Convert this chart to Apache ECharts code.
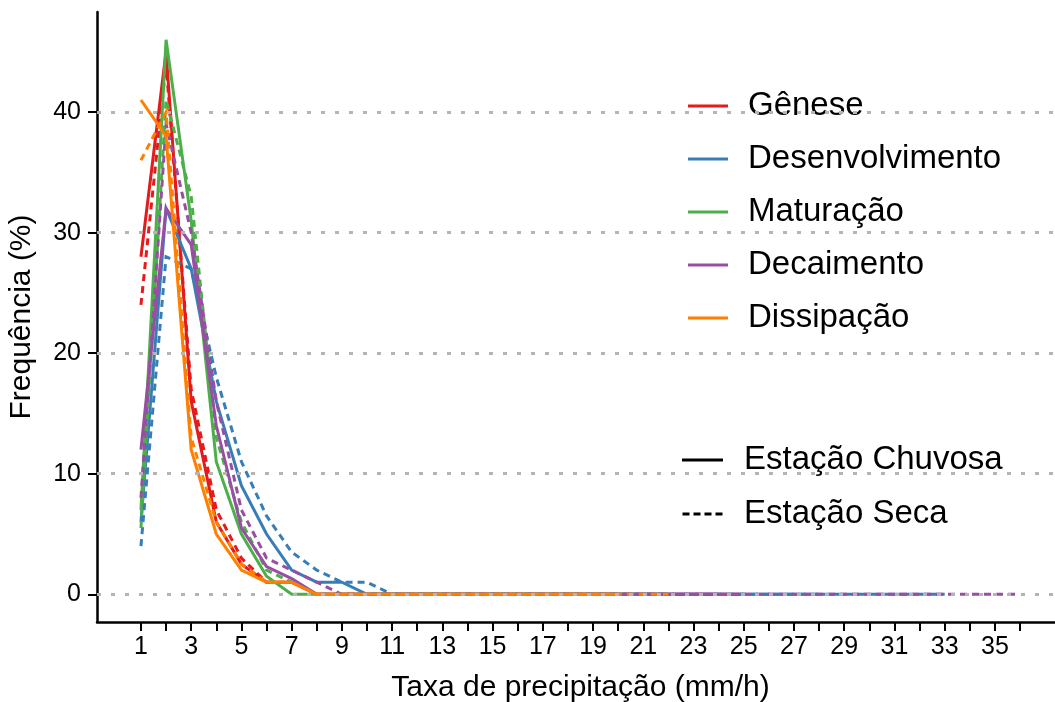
<!DOCTYPE html>
<html>
<head>
<meta charset="utf-8">
<script src="https://cdn.jsdelivr.net/npm/echarts@6/dist/echarts.min.js"></script>
<style>
  html, body { margin: 0; padding: 0; background: #ffffff; overflow: hidden; }
  #chart { width: 1055px; height: 702px; }
</style>
</head>
<body>
<div id="chart"></div>
<script>
// Rain-rate classes (mm/h) and axis ticks
const rates = Array.from({ length: 36 }, (_, i) => i + 1);
const xTickLabels = [1, 3, 5, 7, 9, 11, 13, 15, 17, 19, 21, 23, 25, 27, 29, 31, 33, 35];
const xTicks = rates;
const yTickLabels = [0, 10, 20, 30, 40];

const phases = ['Gênese', 'Desenvolvimento', 'Maturação', 'Decaimento', 'Dissipação'];
const seasons = ['Estação Chuvosa', 'Estação Seca'];
const phaseColors = ['#E41A1C', '#377EB8', '#4DAF4A', '#984EA3', '#FF7F00'];

// Frequency (%) per rain-rate class, rainy season
const geneseChuvosa          = [28, 45, 16, 6, 2.5, 1, 1, 0, 0, 0, 0, 0, 0, 0, 0, 0, 0, 0, 0, 0, 0, 0, 0, 0, 0];
const desenvolvimentoChuvosa = [6, 32, 27, 16, 9, 5, 2, 1, 1, 0, 0, 0, 0, 0, 0, 0, 0, 0, 0, 0, 0, 0, 0, 0, 0, 0, 0, 0, 0, 0, 0, 0, 0];
const maturacaoChuvosa       = [7, 46, 31, 11, 5, 1.5, 0, 0, 0, 0, 0, 0, 0, 0, 0, 0, 0, 0, 0, 0, 0, 0];
const decaimentoChuvosa      = [12, 32, 29, 14, 5.5, 2.3, 1.3, 0, 0, 0, 0, 0, 0, 0, 0, 0, 0, 0, 0, 0, 0, 0, 0, 0];
const dissipacaoChuvosa      = [41, 38, 12, 5, 2, 1, 1, 0, 0, 0, 0, 0, 0, 0, 0, 0, 0, 0, 0, 0];

// Frequency (%) per rain-rate class, dry season
const geneseSeca          = [24, 44, 17, 7, 3, 1, 1, 0, 0, 0, 0, 0, 0, 0, 0, 0, 0, 0, 0, 0, 0, 0];
const desenvolvimentoSeca = [4, 28, 27, 18, 11, 6.5, 3.5, 2, 1, 1, 0, 0, 0, 0, 0, 0, 0, 0, 0, 0, 0, 0, 0, 0, 0, 0, 0, 0];
const maturacaoSeca       = [5.5, 41, 33, 13, 6, 2, 1, 0, 0, 0, 0, 0, 0, 0, 0, 0, 0, 0, 0, 0];
const decaimentoSeca      = [8, 39, 30, 16, 7, 3, 2, 1, 0, 0, 0, 0, 0, 0, 0, 0, 0, 0, 0, 0, 0, 0, 0, 0, 0, 0, 0, 0, 0, 0, 0, 0, 0, 0, 0, 0];
const dissipacaoSeca      = [36, 40, 13, 6, 2.5, 1, 1, 0, 0, 0, 0, 0, 0, 0, 0, 0, 0, 0, 0, 0, 0, 0];

const rainy = [geneseChuvosa, desenvolvimentoChuvosa, maturacaoChuvosa, decaimentoChuvosa, dissipacaoChuvosa];
const dry = [geneseSeca, desenvolvimentoSeca, maturacaoSeca, decaimentoSeca, dissipacaoSeca];

const FONT = 'Liberation Sans';
const LINE_W = 3;
const DASH = [7, 5];

// Key glyphs: a plain bar for solid lines, four short bars for dashed
const SOLID_ICON = 'rect';
const DASHED_ICON = 'path://M0,0h7v3h-7z M11,0h7v3h-7z M22,0h7v3h-7z M33,0h7v3h-7z';

function toPoints(values) {
  return values.map((v, i) => [rates[i], v]);
}

const series = [];

// Dotted horizontal reference lines behind the curves
series.push({
  name: 'grid',
  type: 'line',
  data: [],
  silent: true,
  z: 1,
  markLine: {
    silent: true,
    symbol: 'none',
    label: { show: false },
    lineStyle: { color: '#b5b5b5', width: 3, type: [4, 10] },
    data: yTickLabels.map(v => ({ yAxis: v }))
  }
});

phases.forEach((p, k) => {
  series.push({
    name: p,
    type: 'line',
    data: toPoints(rainy[k]),
    showSymbol: false,
    symbol: 'none',
    z: 3,
    color: phaseColors[k],
    lineStyle: { color: phaseColors[k], width: LINE_W, type: 'solid', cap: 'butt', join: 'miter' }
  });
  series.push({
    name: p + ' (seca)',
    type: 'line',
    data: toPoints(dry[k]),
    showSymbol: false,
    symbol: 'none',
    z: 3,
    color: phaseColors[k],
    lineStyle: { color: phaseColors[k], width: LINE_W, type: DASH, cap: 'butt', join: 'miter' }
  });
});

// Line-type key entries
series.push({
  name: seasons[0], type: 'line', data: [], symbol: 'none', color: '#000',
  lineStyle: { color: '#000', width: LINE_W, type: 'solid' }
});
series.push({
  name: seasons[1], type: 'line', data: [], symbol: 'none', color: '#000',
  lineStyle: { color: '#000', width: LINE_W, type: DASH }
});

const chart = echarts.init(document.getElementById('chart'), null, { renderer: 'canvas' });

chart.setOption({
  animation: false,
  backgroundColor: '#ffffff',
  textStyle: { fontFamily: FONT },
  grid: { left: 97, right: -9, top: 12, bottom: 80, containLabel: false, outerBoundsMode: 'none' },
  xAxis: {
    type: 'value',
    min: -0.75,
    max: 37.75,
    name: 'Taxa de precipitação (mm/h)',
    nameLocation: 'middle',
    nameGap: 51,
    nameTextStyle: { fontFamily: FONT, fontSize: 30, color: '#000' },
    axisLine: { show: true, onZero: false, lineStyle: { color: '#000', width: 2.5 } },
    axisTick: { show: true, length: 9, lineStyle: { color: '#000', width: 2 }, customValues: xTicks },
    axisLabel: { fontFamily: FONT, fontSize: 25, color: '#000', margin: 13, customValues: xTickLabels },
    splitLine: { show: false }
  },
  yAxis: {
    type: 'value',
    min: -2.3,
    max: 48.3,
    name: 'Frequência (%)',
    nameLocation: 'middle',
    nameGap: 60,
    nameRotate: 90,
    nameTextStyle: { fontFamily: FONT, fontSize: 30, color: '#000' },
    axisLine: { show: true, onZero: false, lineStyle: { color: '#000', width: 2.5 } },
    axisTick: { show: true, length: 9, lineStyle: { color: '#000', width: 2 }, customValues: yTickLabels },
    axisLabel: { fontFamily: FONT, fontSize: 25, color: '#000', margin: 16, customValues: yTickLabels },
    splitLine: { show: false }
  },
  legend: [
    {
      data: phases.map(p => ({ name: p, icon: SOLID_ICON })),
      orient: 'vertical',
      left: 683,
      top: 84,
      itemWidth: 40,
      itemHeight: 3,
      itemGap: 19,
      selectedMode: false,
      textStyle: { fontFamily: FONT, fontSize: 33, color: '#000', lineHeight: 34, padding: [0, 0, 0, 15] }
    },
    {
      data: [
        { name: seasons[0], icon: SOLID_ICON },
        { name: seasons[1], icon: DASHED_ICON }
      ],
      orient: 'vertical',
      left: 677,
      top: 438,
      itemWidth: 41,
      itemHeight: 3,
      itemGap: 20,
      selectedMode: false,
      textStyle: { fontFamily: FONT, fontSize: 33, color: '#000', lineHeight: 34, padding: [0, 0, 0, 16] }
    }
  ],
  series: series
});
</script>
</body>
</html>
